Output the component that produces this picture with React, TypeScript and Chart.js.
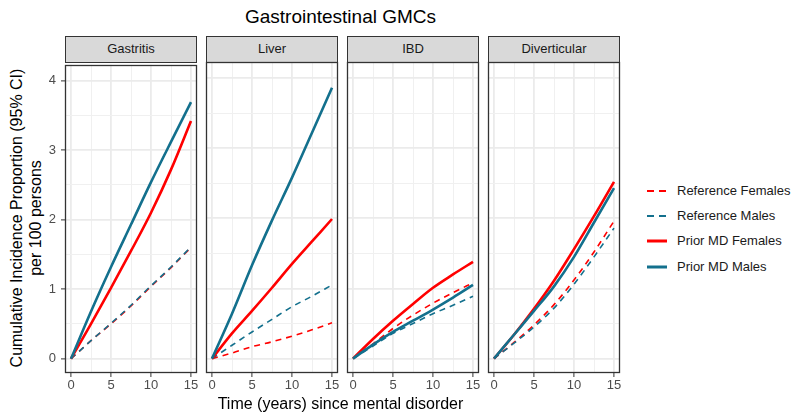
import React, { useEffect, useRef } from "react";
import { Chart, registerables } from "chart.js";

Chart.register(...registerables);

// ---------- text ----------
const titleText = "Gastrointestinal GMCs";
const xAxisTitle = "Time (years) since mental disorder";
const yAxisTitleLines = ["Cumulative Incidence Proportion (95% CI)", "per 100 persons"];
const panelNames = ["Gastritis", "Liver", "IBD", "Diverticular"];
const seriesNames = ["Reference Females", "Reference Males", "Prior MD Females", "Prior MD Males"];

// ---------- data ----------
const years = [0, 2.5, 5, 7.5, 10, 12.5, 15];
const xTickValues = [0, 2.5, 5, 7.5, 10, 12.5, 15];
const yTickValues = [0, 0.5, 1, 1.5, 2, 2.5, 3, 3.5, 4];

// one row per panel: Gastritis, Liver, IBD, Diverticular
const refFemales = [
  [0, 0.26, 0.5, 0.76, 1.04, 1.31, 1.6],
  [0, 0.08, 0.17, 0.24, 0.32, 0.41, 0.51],
  [0, 0.21, 0.43, 0.62, 0.79, 0.94, 1.08],
  [0, 0.23, 0.48, 0.77, 1.12, 1.52, 1.96],
];
const refMales = [
  [0, 0.26, 0.51, 0.77, 1.05, 1.32, 1.61],
  [0, 0.19, 0.38, 0.56, 0.74, 0.89, 1.05],
  [0, 0.18, 0.36, 0.5, 0.64, 0.76, 0.89],
  [0, 0.22, 0.45, 0.72, 1.06, 1.45, 1.86],
];
const priorFemales = [
  [0, 0.5, 1.02, 1.55, 2.1, 2.72, 3.42],
  [0, 0.36, 0.68, 1.01, 1.35, 1.67, 1.99],
  [0, 0.28, 0.54, 0.78, 1.01, 1.2, 1.38],
  [0, 0.34, 0.71, 1.11, 1.56, 2.03, 2.52],
];
const priorMales = [
  [0, 0.68, 1.32, 1.93, 2.54, 3.12, 3.69],
  [0, 0.64, 1.33, 1.97, 2.58, 3.22, 3.86],
  [0, 0.2, 0.38, 0.54, 0.7, 0.87, 1.05],
  [0, 0.34, 0.68, 1.03, 1.45, 1.94, 2.43],
];

// ---------- styles ----------
const RED = "#FF0000";
const TEAL = "#13708D";
const FONT = "'Liberation Sans', Arial, Helvetica, sans-serif";
const seriesStyles = [
  { color: RED, width: 1.6, dash: [6, 5] },
  { color: TEAL, width: 1.6, dash: [6, 5] },
  { color: RED, width: 2.6, dash: [] as number[] },
  { color: TEAL, width: 2.6, dash: [] as number[] },
];
const seriesData = [refFemales, refMales, priorFemales, priorMales];

const PANEL_LEFTS = [65, 206, 347, 488];
const PANEL_W = 132;
const PANEL_TOP = 62;
const PANEL_H = 311;
const Y_AXIS_W = 50;
const PAD = 10;
const X_AXIS_H = 30;

const panelBorder = {
  id: "panelBorder",
  afterDraw(chart: any) {
    const { ctx, chartArea: a } = chart;
    ctx.save();
    ctx.strokeStyle = "#333333";
    ctx.lineWidth = 1.3;
    const l = Math.round(a.left) + 0.5;
    const t = Math.round(a.top) + 0.5;
    const r = Math.round(a.right) - 0.5;
    const b = Math.round(a.bottom) - 0.5;
    ctx.strokeRect(l, t, r - l, b - t);
    ctx.restore();
  },
};

function Panel({ index }: { index: number }) {
  const ref = useRef<HTMLCanvasElement | null>(null);
  const first = index === 0;
  const leftPad = first ? Y_AXIS_W : PAD;
  const cw = leftPad + PANEL_W + PAD;
  const ch = PAD + PANEL_H + X_AXIS_H;

  useEffect(() => {
    if (!ref.current) return;
    const order = [3, 2, 1, 0]; // Prior MD Males drawn on top
    const datasets = order.map((s) => ({
      label: seriesNames[s],
      data: years.map((x, i) => ({ x, y: seriesData[s][index][i] })),
      borderColor: seriesStyles[s].color,
      backgroundColor: seriesStyles[s].color,
      borderWidth: seriesStyles[s].width,
      borderDash: seriesStyles[s].dash,
      pointRadius: 0,
      fill: false,
      cubicInterpolationMode: "monotone" as const,
      borderCapStyle: "butt" as const,
    }));
    const isMajorX = (v: number) => v % 5 === 0;
    const isMajorY = (v: number) => Number.isInteger(v);
    const chart = new Chart(ref.current, {
      type: "line",
      data: { datasets },
      options: {
        animation: false,
        responsive: false,
        devicePixelRatio: 1,
        events: [],
        layout: { padding: { top: PAD, right: PAD, bottom: 0, left: first ? 0 : PAD } },
        plugins: { legend: { display: false }, tooltip: { enabled: false }, title: { display: false } },
        scales: {
          x: {
            type: "linear",
            min: -0.75,
            max: 15.75,
            afterBuildTicks: (s: any) => {
              s.ticks = xTickValues.map((v) => ({ value: v }));
            },
            afterFit: (s: any) => {
              s.height = X_AXIS_H;
            },
            border: { display: false },
            grid: {
              color: (c: any) => (c.tick && isMajorX(c.tick.value) ? "#EBEBEB" : "#F0F0F0"),
              lineWidth: (c: any) => (c.tick && isMajorX(c.tick.value) ? 1.8 : 1),
              drawTicks: true,
              tickLength: 4,
              tickWidth: 1,
              tickColor: (c: any) => (c.tick && isMajorX(c.tick.value) ? "#333333" : "rgba(0,0,0,0)"),
            },
            ticks: {
              autoSkip: false,
              maxRotation: 0,
              minRotation: 0,
              padding: 1,
              color: "#4D4D4D",
              font: { family: FONT, size: 13 },
              callback: (v: any) => (isMajorX(Number(v)) ? String(v) : ""),
            },
          },
          y: {
            type: "linear",
            min: -0.205,
            max: 4.228,
            afterBuildTicks: (s: any) => {
              s.ticks = yTickValues.map((v) => ({ value: v }));
            },
            afterFit: (s: any) => {
              s.width = first ? Y_AXIS_W : 0;
            },
            border: { display: false },
            grid: {
              color: (c: any) => (c.tick && isMajorY(c.tick.value) ? "#EBEBEB" : "#F0F0F0"),
              lineWidth: (c: any) => (c.tick && isMajorY(c.tick.value) ? 1.8 : 1),
              drawTicks: first,
              tickLength: 4,
              tickWidth: 1,
              tickColor: (c: any) => (c.tick && isMajorY(c.tick.value) ? "#333333" : "rgba(0,0,0,0)"),
            },
            ticks: {
              display: first,
              autoSkip: false,
              padding: 5,
              color: "#4D4D4D",
              font: { family: FONT, size: 13 },
              callback: (v: any) => (isMajorY(Number(v)) ? String(v) : ""),
            },
          },
        },
      },
      plugins: [panelBorder],
    });
    return () => chart.destroy();
  }, [index]);

  return (
    <canvas
      ref={ref}
      width={cw}
      height={ch}
      style={{
        position: "absolute",
        left: PANEL_LEFTS[index] - leftPad,
        top: PANEL_TOP - PAD,
        width: cw,
        height: ch,
      }}
    />
  );
}

function LegendKey({ s }: { s: number }) {
  const st = seriesStyles[s];
  return (
    <svg width={20} height={8} style={{ position: "absolute", left: 0, top: -4 }}>
      <line
        x1={0}
        y1={4}
        x2={20}
        y2={4}
        stroke={st.color}
        strokeWidth={st.width + 0.4}
        strokeDasharray={st.dash.length ? "7 5" : undefined}
      />
    </svg>
  );
}

export default function App() {
  const legendYs = [191, 216, 241, 267];
  return (
    <div
      style={{
        position: "fixed",
        left: 0,
        top: 0,
        width: 791,
        height: 412,
        background: "#FFFFFF",
        fontFamily: FONT,
        overflow: "hidden",
      }}
    >
      <div
        style={{
          position: "absolute",
          left: 0,
          width: 681,
          top: 7,
          textAlign: "center",
          fontSize: 19,
          lineHeight: "19px",
          color: "#000",
          whiteSpace: "nowrap",
        }}
      >
        {titleText}
      </div>

      <div
        style={{
          position: "absolute",
          left: 27 - 170,
          top: 218 - 19,
          width: 340,
          height: 38,
          transform: "rotate(-90deg)",
          transformOrigin: "50% 50%",
          textAlign: "center",
          fontSize: 16,
          lineHeight: "18.5px",
          color: "#000",
          whiteSpace: "nowrap",
        }}
      >
        <div>{yAxisTitleLines[0]}</div>
        <div>{yAxisTitleLines[1]}</div>
      </div>

      {panelNames.map((name, i) => (
        <div
          key={name}
          style={{
            position: "absolute",
            left: PANEL_LEFTS[i],
            top: 36,
            width: PANEL_W,
            height: 27,
            boxSizing: "border-box",
            border: "1.2px solid #333333",
            background: "#D9D9D9",
            textAlign: "center",
            fontSize: 13,
            lineHeight: "24px",
            color: "#1A1A1A",
          }}
        >
          {name}
        </div>
      ))}

      {panelNames.map((name, i) => (
        <Panel key={"p" + name} index={i} />
      ))}

      <div
        style={{
          position: "absolute",
          left: 0,
          width: 681,
          top: 396,
          textAlign: "center",
          fontSize: 16,
          lineHeight: "16px",
          color: "#000",
          whiteSpace: "nowrap",
        }}
      >
        {xAxisTitle}
      </div>

      {seriesNames.map((name, s) => (
        <div key={name} style={{ position: "absolute", left: 647, top: legendYs[s], height: 0 }}>
          <LegendKey s={s} />
          <div
            style={{
              position: "absolute",
              left: 30,
              top: -8,
              fontSize: 13,
              lineHeight: "16px",
              color: "#1A1A1A",
              whiteSpace: "nowrap",
            }}
          >
            {name}
          </div>
        </div>
      ))}
    </div>
  );
}
